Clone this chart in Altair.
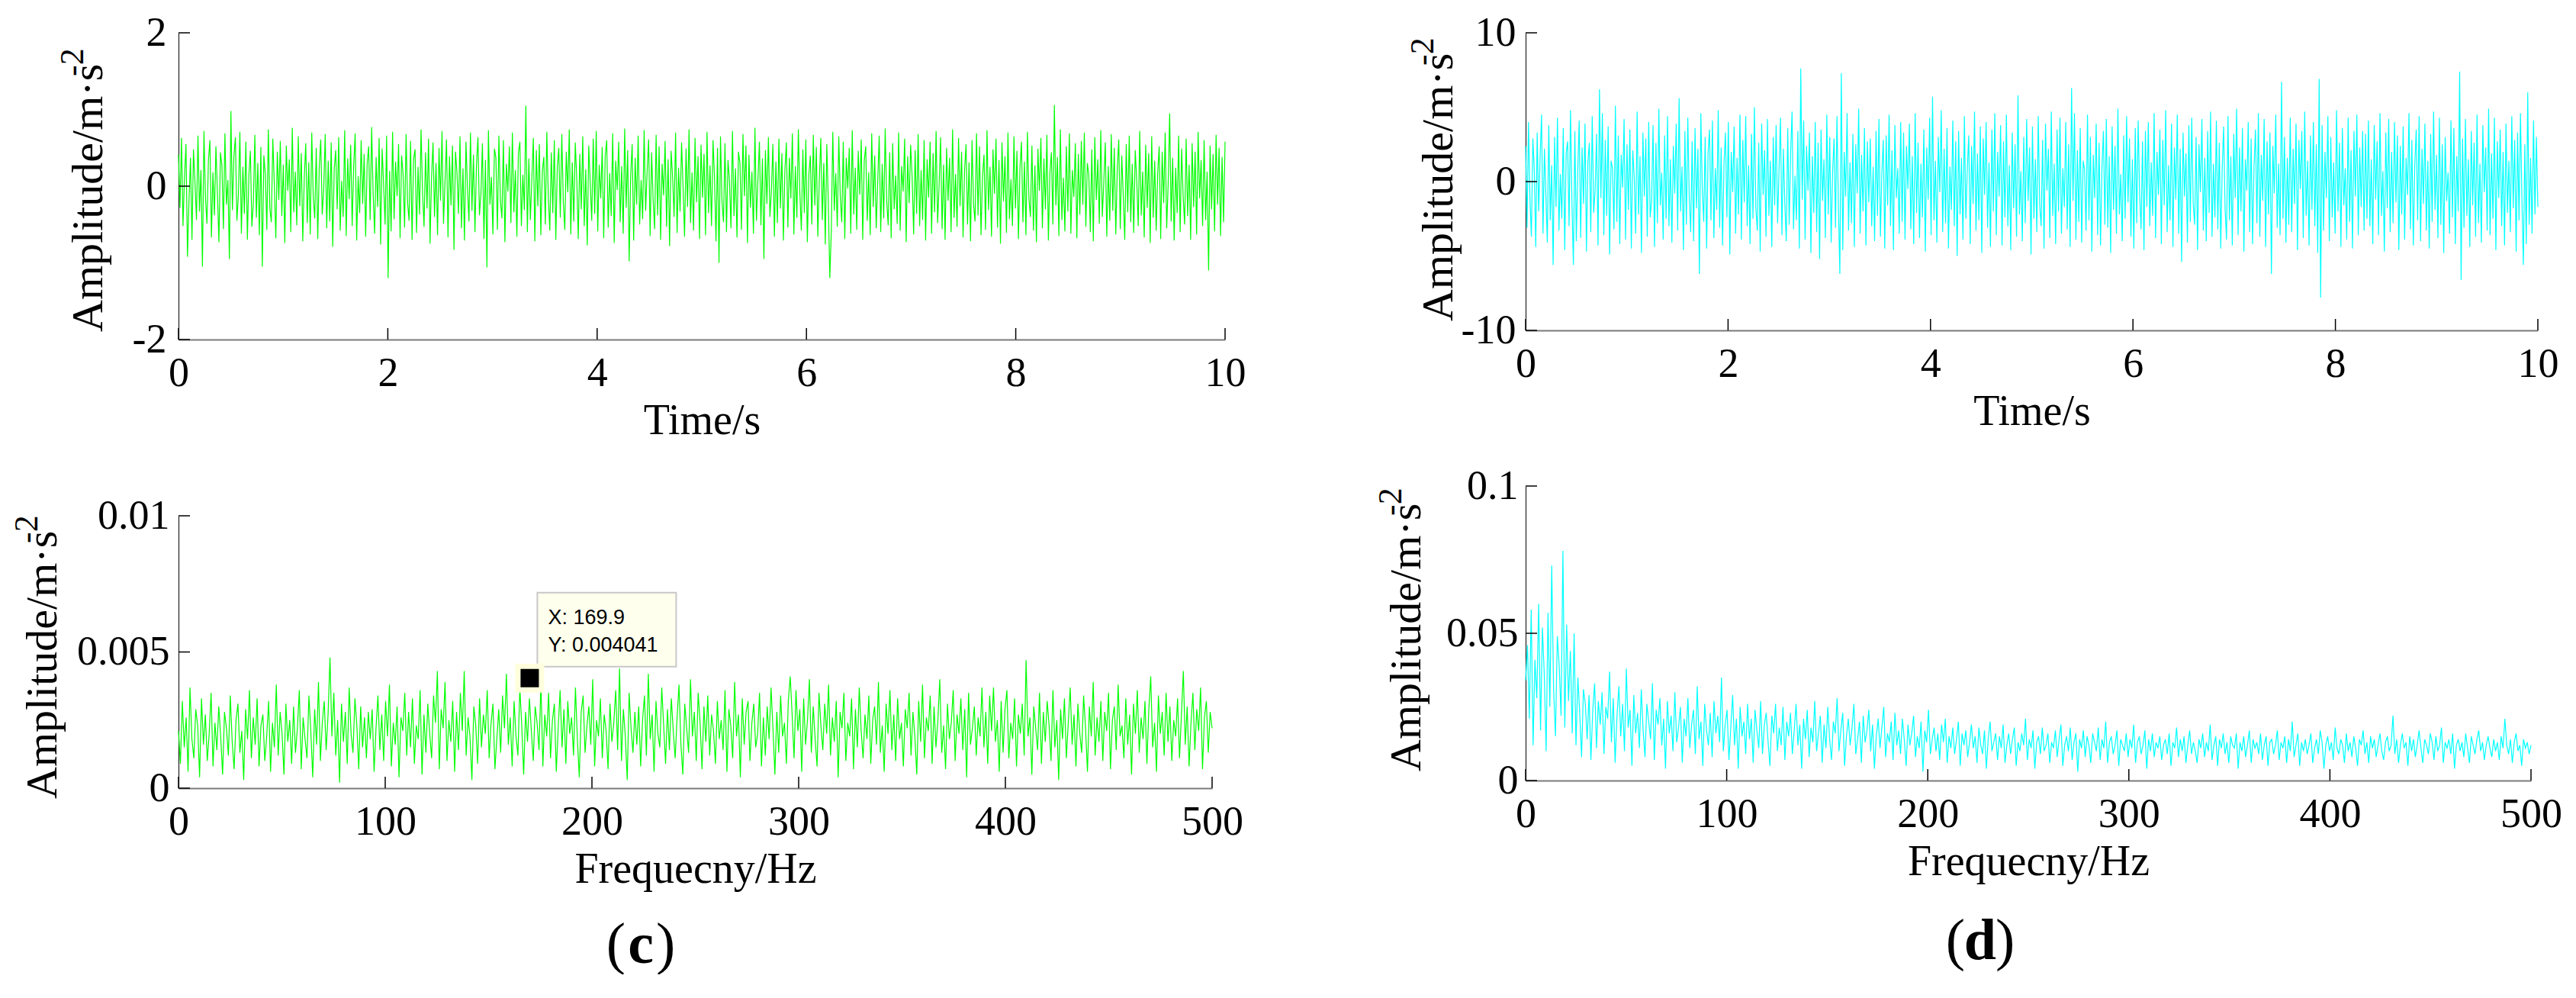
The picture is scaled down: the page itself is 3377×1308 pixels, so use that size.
import altair as alt
import pandas as pd

# ---------------- data ----------------
# (a) time signal, green, 0..10 s
sig_a = [
0.41,-0.28,0.63,-0.52,0.12,0.55,-0.92,-0.2,0.37,-0.7,0.48,0.05,-0.44,0.66,-0.33,0.21,-1.05,0.72,-0.15,-0.49,0.34,0.6,-0.67,0.18,-0.38,
0.52,-0.09,-0.73,0.44,0.27,-0.56,0.69,-0.24,0.08,-0.95,0.98,-0.31,0.39,0.64,-0.45,-0.12,0.71,-0.62,0.25,-0.36,0.58,-0.7,0.14,0.46,-0.53,
-0.22,0.67,-0.41,0.3,-0.64,0.51,-1.05,0.4,0.16,-0.57,0.74,-0.29,-0.47,0.62,0.03,-0.68,0.45,-0.18,0.59,-0.39,0.28,-0.74,0.53,-0.06,0.35,
-0.6,0.76,-0.34,0.19,-0.51,0.65,-0.26,0.43,-0.72,0.1,0.56,-0.48,0.31,-0.63,0.7,-0.14,-0.42,0.5,-0.69,0.24,0.61,-0.37,-0.04,0.68,-0.55,
0.33,-0.46,0.57,-0.79,0.22,0.47,-0.3,0.64,-0.58,0.07,-0.4,0.73,-0.65,0.36,-0.17,0.54,-0.52,0.26,0.69,-0.71,0.13,-0.35,0.6,-0.23,0.42,
-0.66,0.29,0.52,-0.44,0.77,-0.1,-0.62,0.38,-0.27,0.63,-0.76,0.49,0.02,-0.5,0.66,-1.2,0.2,-0.59,0.71,-0.43,0.32,-0.13,0.55,-0.68,0.4,
0.16,-0.54,0.68,-0.21,-0.45,0.59,-0.7,0.35,0.48,-0.61,0.25,-0.37,0.74,-0.08,-0.53,0.44,-0.29,0.62,-0.75,0.11,0.57,-0.4,0.3,-0.64,0.5,
-0.19,0.72,-0.49,0.06,0.61,-0.67,0.39,-0.25,0.53,-0.83,0.45,0.18,-0.36,0.65,-0.55,0.23,-0.71,0.58,-0.02,-0.46,0.7,-0.32,0.41,-0.6,0.27,
0.64,-0.38,-0.1,0.56,-0.69,0.34,-1.06,0.73,-0.24,0.12,-0.63,0.49,0.37,-0.57,0.66,-0.19,-0.42,0.6,-0.73,0.29,-0.07,0.52,-0.48,0.7,-0.34,
0.21,-0.66,0.43,0.58,-0.52,0.15,-0.31,1.05,-0.6,0.36,-0.44,0.09,0.63,-0.72,0.47,-0.26,0.55,-0.64,0.19,0.38,-0.5,0.71,-0.14,-0.58,0.44,
-0.35,0.6,-0.7,0.25,0.5,-0.41,0.68,-0.2,-0.57,0.45,-0.08,0.74,-0.63,0.31,-0.46,0.57,0.1,-0.69,0.42,-0.3,0.65,-0.52,0.22,-0.77,0.53,
0.04,-0.45,0.62,-0.36,0.72,-0.59,0.28,-0.16,0.51,-0.68,0.4,0.6,-0.54,0.17,-0.39,0.69,-0.74,0.33,-0.05,0.58,-0.47,0.26,-0.62,0.75,-0.28,
0.47,-0.98,0.14,0.55,-0.71,0.37,-0.24,0.66,-0.5,0.08,-0.43,0.73,-0.32,0.2,0.61,-0.65,0.44,-0.18,-0.56,0.67,-0.38,0.52,-0.7,0.29,-0.12,
0.59,-0.53,0.35,-0.78,0.46,0.13,-0.4,0.7,-0.61,0.24,-0.33,0.57,-0.01,-0.66,0.49,-0.27,0.74,-0.48,0.18,-0.58,0.63,-0.21,0.39,-0.69,0.54,
-0.15,0.42,-0.64,0.71,-0.35,0.27,-0.52,0.6,0.11,-0.72,0.5,-1.0,0.65,-0.2,-0.47,0.56,-0.6,0.34,0.07,-0.55,0.72,-0.39,0.23,-0.67,0.45,
0.3,-0.57,0.68,-0.13,0.53,-0.74,0.41,-0.28,0.19,-0.62,0.76,-0.45,0.09,0.58,-0.51,0.36,-0.95,0.47,-0.23,0.64,-0.4,-0.06,0.55,-0.66,0.32,
-0.48,0.62,-0.29,0.43,-0.71,0.2,0.57,-0.54,0.37,-0.16,0.69,-0.63,0.26,-0.41,0.74,-0.09,-0.58,0.48,-0.35,0.61,-0.73,0.15,0.4,-0.5,0.67,
-0.25,0.51,-0.66,0.08,0.63,-0.44,0.3,-0.76,0.55,-0.2,-1.2,-0.6,0.71,-0.32,0.17,-0.53,0.65,-0.14,-0.47,0.58,-0.69,0.37,-0.03,0.5,-0.62,
0.73,-0.37,0.24,-0.57,0.46,-0.11,0.61,-0.7,0.33,0.52,-0.45,0.18,-0.64,0.69,-0.27,0.4,-0.55,0.06,0.66,-0.6,0.29,-0.42,0.75,-0.19,-0.51,
0.44,-0.68,0.56,-0.3,0.14,-0.49,0.7,-0.58,0.26,-0.07,0.62,-0.73,0.39,-0.22,0.54,0.12,-0.63,0.47,-0.36,0.68,-0.52,0.21,-0.44,0.6,-0.71,
0.35,-0.15,0.58,-0.62,0.43,-0.34,0.72,-0.48,0.01,0.64,-0.56,0.28,-0.7,0.5,-0.19,0.37,-0.6,0.74,-0.41,0.16,-0.53,0.63,-0.26,0.45,-0.67,
0.2,0.55,-0.5,0.31,-0.72,0.6,-0.23,-0.46,0.69,-0.38,0.52,-0.64,0.13,0.41,-0.57,0.73,-0.31,0.25,-0.66,0.48,-0.1,0.62,-0.54,0.34,-0.75,
0.57,-0.2,0.39,-0.61,0.7,-0.43,0.09,-0.52,0.65,-0.29,0.46,-0.69,0.23,0.58,-0.47,0.32,-0.64,0.71,-0.16,-0.4,0.53,-0.58,0.27,-0.73,0.49,
-0.06,0.63,-0.55,0.36,-0.3,0.67,-0.71,0.18,0.44,-0.5,1.06,-0.25,0.38,-0.65,0.74,-0.44,0.11,-0.59,0.52,-0.33,0.69,-0.62,0.21,-0.14,0.56,
-0.68,0.42,-0.37,0.59,-0.24,0.7,-0.53,0.3,0.15,-0.6,0.48,-0.72,0.64,-0.18,0.35,-0.49,0.73,-0.4,0.05,0.57,-0.66,0.26,-0.45,0.68,-0.32,
0.5,-0.63,0.22,0.61,-0.56,0.4,-0.12,-0.7,0.55,-0.34,0.66,-0.47,0.29,-0.61,0.47,0.08,-0.52,0.72,-0.38,0.19,-0.67,0.54,-0.28,0.43,-0.74,
0.65,-0.41,0.33,-0.58,0.17,0.52,-0.69,0.45,-0.22,0.7,-0.55,0.03,0.95,-0.46,0.37,-0.71,0.24,-0.35,0.66,-0.6,0.49,-0.13,-0.5,0.62,-0.39,
0.28,-0.7,0.56,-0.27,0.45,-0.63,0.71,-0.16,0.34,-0.52,0.6,-0.44,0.19,-1.1,0.53,-0.3,0.42,-0.59,0.67,-0.24,0.5,-0.65,0.38,-0.47,0.58,
]

# (b) time signal, cyan, 0..10 s
sig_b = [
2.4,-3.1,4.0,-1.2,-3.7,2.9,0.8,-4.4,3.3,-2.0,1.6,4.5,-3.5,2.2,-0.9,-4.1,3.8,-2.6,1.1,-5.6,3.0,-1.7,4.3,-3.3,0.5,
-2.5,3.6,-4.6,1.9,2.7,-3.0,4.8,-1.4,-5.6,3.4,-4.0,0.7,4.1,-3.8,2.3,-1.5,3.9,-4.7,1.3,2.6,-3.4,4.4,-2.1,-0.6,3.2,
-4.3,6.2,-1.1,4.6,-3.6,2.8,-2.3,3.7,-4.9,1.4,0.9,-3.2,5.1,-2.7,3.1,-4.2,1.8,-0.4,4.2,-3.9,2.5,-1.9,3.5,-4.5,2.1,
0.3,-3.5,4.7,-2.2,1.7,-4.8,3.3,-1.0,2.9,-3.7,4.0,-2.4,-1.3,3.8,-4.4,2.6,-2.8,4.9,-1.6,0.6,-3.9,3.1,-2.5,4.4,-3.0,
1.5,-4.1,2.4,-0.8,3.9,-3.3,5.6,-2.0,1.0,-4.6,3.4,-2.9,4.3,-1.1,-3.4,2.7,-4.0,3.6,-1.8,2.2,-6.2,4.6,-0.5,-2.7,3.0,
-4.5,1.9,3.5,-2.6,4.1,-3.8,0.9,-1.9,4.8,-3.1,2.3,-4.3,1.2,3.3,-2.4,4.0,-4.9,2.0,-0.7,3.7,-3.5,1.6,-2.2,4.5,-3.9,
2.8,-1.4,4.4,-3.0,1.1,-4.2,3.2,-2.5,5.0,-1.8,-3.3,2.6,-4.7,3.9,-0.9,2.1,-3.7,4.2,-2.3,1.4,-4.4,3.0,-1.6,3.8,-2.8,
0.8,4.3,-3.6,2.2,-1.5,-4.0,3.6,-2.9,1.9,4.7,-3.2,0.4,-2.6,3.4,-4.5,7.6,-1.2,4.1,-3.9,2.4,-0.6,3.3,-4.8,1.7,-2.1,
4.0,-3.4,2.6,-5.2,3.5,-1.3,1.5,-3.8,4.5,-2.2,3.0,-4.1,0.7,2.9,-3.1,4.4,-1.7,-6.2,7.3,-4.6,2.0,-1.0,4.6,-3.3,1.3,
-2.8,3.2,-4.4,2.5,-0.8,4.9,-3.5,1.8,-2.0,3.6,-4.3,2.7,-1.4,2.9,-3.0,1.0,-4.0,3.4,-2.3,4.2,-3.7,0.6,2.8,-4.5,3.1,
-1.6,4.5,-3.0,2.1,-4.6,3.8,-1.1,0.9,-3.5,4.0,-2.7,3.3,-3.9,2.4,-0.5,3.9,-3.2,1.7,-4.2,4.6,-2.1,2.6,-3.8,1.2,-2.4,
3.5,-4.7,2.3,-1.2,4.3,-3.6,5.7,-2.6,1.4,-4.1,3.0,-0.7,4.8,-3.4,2.2,-2.8,3.6,-4.5,1.0,-1.9,4.1,-3.0,2.7,-5.0,3.4,
-2.2,1.6,-3.9,4.4,-2.5,0.8,3.1,-4.2,2.4,-1.5,4.7,-3.3,1.9,-2.6,3.7,-4.8,2.9,-0.9,4.0,-3.1,1.3,-4.4,3.5,-2.0,4.6,
-3.6,2.0,-1.0,3.8,-4.3,2.7,-2.4,4.5,-3.0,1.1,-4.6,3.3,-1.8,2.5,-3.7,5.8,-2.2,0.7,-4.0,3.0,-2.8,4.2,-1.3,2.3,-4.9,
3.7,-2.5,1.5,-3.4,4.4,-1.6,-3.0,2.8,-4.5,3.9,-0.6,2.2,-3.8,4.7,-2.3,1.2,-4.2,3.5,-2.0,4.3,-3.5,0.9,-1.7,4.0,-3.2,
2.5,-4.4,6.3,-1.3,4.6,-3.9,2.1,-2.7,3.6,-4.1,1.4,0.8,-3.3,4.5,-2.6,3.0,-4.7,1.8,-1.1,3.9,-3.6,2.6,-4.3,1.0,3.4,
-2.9,4.2,-3.1,1.7,-4.8,3.7,-1.9,2.4,-3.5,4.9,-2.2,0.5,-4.0,3.1,-2.5,4.4,-1.4,2.9,-3.7,1.5,-4.5,3.6,-2.8,4.1,-0.8,
-3.2,2.7,-4.6,3.4,-1.7,4.0,-3.0,1.3,-2.3,4.6,-3.8,2.0,-0.9,3.5,-4.2,2.8,-1.6,4.8,-3.4,1.1,-2.6,3.9,-4.4,2.3,-1.2,
4.5,-3.5,2.2,-5.4,3.3,-1.0,1.9,-4.1,3.8,-2.7,4.3,-1.5,-2.9,3.0,-4.6,2.5,-0.7,4.2,-3.3,1.6,-4.0,3.4,-2.1,4.7,-3.7,
1.2,-2.4,4.1,-3.2,2.6,-4.5,0.8,3.7,-1.8,-3.9,4.4,-2.6,1.7,-4.3,3.2,-1.1,4.9,-3.6,2.3,-2.0,3.6,-4.7,1.5,-0.6,4.0,
-3.4,2.9,-4.2,1.0,3.5,-2.8,4.6,-3.7,1.8,-1.3,4.2,-4.4,2.7,-2.2,3.3,-6.2,2.4,-0.8,4.5,-3.1,1.2,-3.6,6.7,-2.5,3.0,
-4.1,1.6,-2.9,4.3,-3.4,2.2,-1.5,3.9,-4.6,2.8,-0.5,3.4,-3.8,4.7,-2.3,1.4,-4.3,3.1,-1.9,4.0,-3.0,2.5,-4.8,6.9,-7.8,
3.8,-3.3,2.0,-1.1,4.4,-4.0,3.0,-2.4,1.3,-3.5,4.8,-2.0,2.6,-4.4,3.6,-1.6,0.9,-3.9,4.3,-2.7,2.1,-4.5,3.4,-1.0,4.5,
-3.6,2.3,-1.7,3.4,-3.3,3.2,-2.5,4.1,-3.0,1.5,-4.2,3.8,-1.2,2.7,-3.6,4.6,-2.3,0.7,-4.7,3.3,-1.8,4.2,-3.4,2.0,-2.8,
4.0,-1.4,3.1,-4.6,2.4,-2.2,3.7,-3.9,1.6,-0.9,4.6,-3.2,2.8,-4.3,1.1,3.5,-2.6,4.4,-4.0,2.2,-1.5,3.9,-3.3,1.4,-4.5,
3.2,-2.7,4.7,-1.9,1.8,-3.8,4.3,-2.9,2.5,-4.8,3.0,-1.3,0.6,-3.5,4.1,-2.4,3.6,-4.2,1.7,-2.0,7.4,-6.6,2.9,-3.1,4.2,
-2.3,1.5,-4.4,3.4,-1.6,2.6,-3.7,4.5,-2.8,1.2,-4.1,3.8,-0.7,2.3,-3.3,4.9,-3.6,1.9,-2.5,4.3,-4.6,2.7,-1.1,3.5,-3.0,
2.0,-4.3,3.9,-2.1,1.4,-3.4,4.4,-1.8,2.8,-4.7,3.3,-2.6,4.6,-1.2,-5.6,2.5,-4.2,6.0,-2.9,1.6,-3.5,4.1,-2.2,3.0,-1.7,
]

# (c) amplitude spectrum, green, 0..500 Hz
spec_c = [
.0021,.0009,.0032,.0015,.0026,.0006,.0037,.0018,.0011,.0029,.0023,.0004,.0033,.0016,.0027,.0010,.0020,.0035,.0008,.0024,
.0014,.0030,.0019,.0005,.0028,.0022,.0012,.0034,.0017,.0007,.0025,.0031,.0013,.0021,.0003,.0029,.0018,.0036,.0011,.0026,
.0016,.0033,.0008,.0023,.0027,.0010,.0019,.0032,.0006,.0024,.0015,.0038,.0012,.0028,.0020,.0005,.0031,.0017,.0025,.0009,
.0030,.0013,.0022,.0036,.0007,.0026,.0018,.0011,.0034,.0021,.0004,.0029,.0016,.0039,.0010,.0024,.0032,.0014,.0027,.0048,
.0019,.0035,.0012,.0025,.0002,.0031,.0017,.0028,.0009,.0037,.0020,.0013,.0033,.0023,.0007,.0030,.0015,.0026,.0011,.0028,
.0018,.0029,.0006,.0022,.0034,.0014,.0027,.0010,.0032,.0019,.0038,.0008,.0024,.0016,.0030,.0004,.0026,.0021,.0035,.0012,
.0028,.0015,.0033,.0009,.0023,.0018,.0036,.0005,.0027,.0013,.0031,.0020,.0011,.0034,.0024,.0043,.0007,.0029,.0022,.0039,
.0010,.0025,.0017,.0032,.0006,.0028,.0014,.0035,.0021,.0043,.0012,.0026,.0019,.0003,.0030,.0023,.0009,.0033,.0015,.0027,
.0020,.0036,.0011,.0024,.0031,.0007,.0018,.0029,.0013,.0034,.0022,.0042,.0016,.0026,.0008,.0032,.0019,.0012,.0037,.0023,
.0005,.0028,.0017,.0033,.0021,.0010,.0030,.0024,.0014,.0039,.0008,.0027,.0019,.0035,.0011,.0025,.0031,.0006,.0022,.0036,
.0015,.0029,.0009,.0032,.0020,.0026,.0012,.0037,.0018,.0004,.0028,.0034,.0013,.0023,.0030,.0016,.0040,.0008,.0025,.0019,
.0033,.0011,.0027,.0021,.0007,.0031,.0017,.0024,.0036,.0014,.0044,.0010,.0029,.0019,.0003,.0035,.0022,.0013,.0028,.0016,
.0030,.0008,.0025,.0034,.0012,.0042,.0018,.0027,.0006,.0032,.0020,.0015,.0037,.0023,.0009,.0029,.0014,.0033,.0021,.0011,
.0026,.0038,.0016,.0005,.0031,.0022,.0013,.0040,.0019,.0028,.0010,.0035,.0024,.0007,.0030,.0017,.0034,.0012,.0027,.0021,
.0009,.0032,.0018,.0025,.0014,.0036,.0006,.0029,.0023,.0011,.0039,.0019,.0027,.0004,.0033,.0016,.0028,.0032,.0010,.0024,
.0031,.0015,.0020,.0035,.0008,.0026,.0012,.0030,.0018,.0037,.0022,.0005,.0028,.0013,.0034,.0019,.0024,.0009,.0032,.0041,
.0027,.0011,.0036,.0021,.0029,.0006,.0033,.0016,.0025,.0040,.0013,.0030,.0018,.0008,.0035,.0023,.0014,.0031,.0020,.0038,
.0012,.0026,.0017,.0032,.0004,.0028,.0022,.0035,.0010,.0024,.0019,.0033,.0007,.0029,.0015,.0037,.0021,.0011,.0027,.0018,
.0034,.0009,.0025,.0030,.0016,.0039,.0013,.0023,.0006,.0031,.0020,.0036,.0014,.0027,.0010,.0033,.0018,.0024,.0008,.0029,
.0022,.0035,.0012,.0028,.0019,.0005,.0032,.0017,.0038,.0011,.0026,.0021,.0034,.0009,.0030,.0015,.0025,.0040,.0013,.0023,
.0007,.0031,.0018,.0024,.0036,.0010,.0027,.0020,.0033,.0014,.0029,.0004,.0035,.0016,.0022,.0030,.0012,.0026,.0019,.0037,
.0015,.0028,.0009,.0034,.0021,.0037,.0017,.0025,.0006,.0032,.0013,.0029,.0036,.0011,.0024,.0018,.0033,.0008,.0027,.0020,
.0031,.0012,.0047,.0019,.0026,.0005,.0030,.0022,.0014,.0035,.0009,.0028,.0017,.0032,.0023,.0010,.0036,.0015,.0025,.0003,
.0029,.0018,.0033,.0011,.0024,.0037,.0016,.0027,.0008,.0031,.0020,.0013,.0034,.0022,.0006,.0030,.0019,.0039,.0012,.0026,
.0017,.0032,.0010,.0028,.0021,.0035,.0007,.0025,.0030,.0014,.0038,.0019,.0023,.0011,.0033,.0016,.0027,.0005,.0031,.0020,
.0036,.0013,.0026,.0018,.0032,.0009,.0029,.0041,.0015,.0024,.0006,.0034,.0020,.0028,.0012,.0035,.0017,.0030,.0010,.0025,
.0019,.0033,.0011,.0027,.0043,.0016,.0030,.0008,.0024,.0035,.0014,.0029,.0021,.0037,.0007,.0026,.0032,.0013,.0028,.0022,
]

# (d) amplitude spectrum, cyan, 0..500 Hz
spec_d = [
.034,.046,.021,.058,.012,.041,.028,.060,.017,.052,.036,.010,.057,.025,.073,.031,.015,.049,.039,.022,
.078,.018,.053,.027,.044,.016,.050,.012,.035,.023,.008,.031,.026,.014,.029,.007,.024,.033,.011,.027,
.019,.030,.009,.025,.021,.037,.013,.028,.006,.022,.032,.015,.026,.010,.038,.018,.024,.005,.029,.016,
.023,.011,.031,.017,.008,.026,.020,.014,.033,.007,.024,.019,.028,.012,.021,.004,.027,.016,.022,.010,
.030,.013,.018,.025,.006,.021,.015,.028,.011,.019,.024,.009,.032,.014,.020,.005,.026,.017,.012,.023,
.008,.027,.016,.022,.013,.035,.010,.019,.024,.007,.018,.029,.012,.021,.004,.025,.015,.020,.009,.026,
.014,.021,.006,.024,.017,.011,.027,.009,.019,.023,.013,.005,.022,.016,.026,.010,.018,.012,.025,.007,
.020,.015,.023,.009,.017,.026,.012,.019,.004,.021,.014,.024,.008,.018,.013,.027,.010,.016,.022,.006,
.019,.011,.025,.014,.007,.020,.016,.028,.010,.017,.023,.005,.015,.021,.012,.018,.026,.009,.014,.020,
.006,.022,.013,.017,.024,.010,.019,.004,.015,.021,.011,.018,.025,.008,.016,.013,.020,.007,.023,.012,
.017,.009,.021,.014,.005,.019,.012,.016,.022,.008,.015,.011,.020,.003,.017,.013,.024,.009,.014,.018,
.010,.016,.007,.019,.013,.021,.006,.015,.011,.018,.009,.014,.020,.005,.016,.012,.017,.008,.013,.019,
.011,.015,.006,.018,.012,.009,.017,.004,.014,.020,.010,.013,.016,.007,.015,.011,.019,.006,.012,.016,
.009,.014,.018,.005,.013,.010,.016,.012,.021,.007,.014,.011,.017,.004,.013,.015,.009,.018,.010,.012,
.016,.006,.013,.011,.017,.008,.014,.019,.005,.012,.015,.010,.018,.007,.013,.016,.003,.014,.011,.017,
.008,.015,.012,.006,.016,.013,.010,.018,.007,.014,.011,.020,.006,.013,.015,.009,.012,.017,.005,.014,
.012,.010,.016,.008,.014,.011,.019,.006,.013,.015,.009,.012,.017,.004,.014,.010,.016,.008,.013,.011,
.015,.007,.012,.014,.009,.016,.005,.013,.011,.018,.008,.014,.010,.015,.006,.012,.017,.009,.013,.010,
.006,.014,.011,.016,.008,.013,.010,.019,.007,.012,.015,.005,.014,.011,.016,.009,.013,.006,.015,.012,
.011,.016,.004,.013,.010,.015,.008,.012,.017,.006,.014,.011,.013,.009,.016,.007,.012,.015,.005,.013,
.014,.009,.012,.017,.007,.013,.011,.015,.006,.014,.010,.020,.008,.012,.016,.005,.013,.010,.014,.009,
.012,.016,.006,.011,.014,.009,.017,.013,.004,.012,.015,.010,.013,.007,.018,.011,.009,.014,.012,.006,
.016,.010,.013,.008,.015,.011,.005,.014,.012,.017,.009,.013,.006,.015,.011,.014,.008,.012,.016,.010,
.007,.013,.015,.010,.012,.022,.009,.014,.006,.012,.016,.011,.013,.005,.015,.010,.014,.008,.012,.017,
.011,.006,.014,.012,.009,.016,.013,.007,.015,.010,.012,.018,.006,.013,.011,.014,.009,.016,.004,.012,
.014,.010,.013,.008,.016,.011,.006,.015,.012,.009,.014,.017,.010,.013,.007,.012,.015,.011,.008,.014,
.010,.013,.007,.015,.011,.021,.012,.009,.014,.006,.013,.016,.010,.012,.005,.014,.011,.013,.009,.012,
]

t_end = 10.0
f_end = 500.0
x_ticks_time = [0, 2, 4, 6, 8, 10]
x_ticks_freq = [0, 100, 200, 300, 400, 500]
y_ticks_a = [-2, 0, 2]
y_ticks_b = [-10, 0, 10]
y_ticks_c = [0, 0.005, 0.01]
y_ticks_d = [0, 0.05, 0.1]
tip_x = [169.9]
tip_y = [0.004041]
tip_lines = ["X: 169.9", "Y: 0.004041"]

SERIF = "Liberation Serif"
SANS = "Liberation Sans"
GREEN = "#00FF00"
CYAN = "#00FFFF"
NOVIEW = alt.ViewBackground(stroke="transparent", strokeWidth=0)


def panel(vals, x_end, color, ydom, xticks, yticks, w, h, xtitle,
          title_x, title_y, lab_pad, letter=None, letter_x=0, letter_y=0):
    n = len(vals)
    df = pd.DataFrame({"x": [i * x_end / (n - 1) for i in range(n)], "y": vals})
    xs = alt.Scale(domain=[0, x_end], nice=False, zero=False)
    ys = alt.Scale(domain=ydom, nice=False, zero=False)
    xaxis = alt.Axis(values=xticks, title=xtitle, labelExpr="datum.value + ''",
                     ticks=False, tickSize=0, grid=False, domainColor="#7a7a7a",
                     domainWidth=2, labelFont=SERIF, labelFontSize=54,
                     labelColor="black", labelPadding=17, labelFlush=False,
                     labelOverlap=False,
                     titleFont=SERIF, titleFontSize=56, titleFontWeight="normal",
                     titleColor="black", titlePadding=8)
    yaxis = alt.Axis(values=yticks, title=None, labelExpr="datum.value + ''",
                     ticks=False, tickSize=0, grid=False, domainColor="#202020",
                     domainWidth=1.2, labelFont=SERIF, labelFontSize=54,
                     labelColor="black", labelPadding=lab_pad, labelFlush=False,
                     labelOverlap=False)
    line = alt.Chart(df).mark_line(color=color, strokeWidth=1.2).encode(
        x=alt.X("x:Q", scale=xs, axis=xaxis),
        y=alt.Y("y:Q", scale=ys, axis=yaxis),
    )
    xt = alt.Chart(pd.DataFrame({"x": xticks})).mark_rule(
        color="black", strokeWidth=1.5).encode(
        x=alt.X("x:Q", scale=xs), y=alt.value(h), y2=alt.value(h - 15))
    yt = alt.Chart(pd.DataFrame({"y": yticks})).mark_rule(
        color="black", strokeWidth=1.5).encode(
        y=alt.Y("y:Q", scale=ys), x=alt.value(0), x2=alt.value(15))
    ttl = alt.Chart(pd.DataFrame({"t": ["Amplitude/m\u00b7s"]})).mark_text(
        angle=270, align="left", baseline="alphabetic", font=SERIF, fontSize=58,
        color="black").encode(text="t:N", x=alt.value(title_x), y=alt.value(title_y))
    sup = alt.Chart(pd.DataFrame({"t": ["-2"]})).mark_text(
        angle=270, align="left", baseline="alphabetic", font=SERIF, fontSize=44,
        color="black").encode(text="t:N", x=alt.value(title_x - 25),
                              y=alt.value(title_y - 335))
    layers = [line, xt, yt, ttl, sup]
    if letter is not None:
        lp = alt.Chart(pd.DataFrame({"t": ["("]})).mark_text(
            align="right", baseline="alphabetic", font=SERIF, fontSize=76,
            color="black").encode(text="t:N", x=alt.value(letter_x - 20),
                                  y=alt.value(letter_y))
        lc = alt.Chart(pd.DataFrame({"t": [letter]})).mark_text(
            align="center", baseline="alphabetic", font=SERIF, fontSize=76,
            fontWeight="bold", color="black").encode(
            text="t:N", x=alt.value(letter_x), y=alt.value(letter_y))
        rp = alt.Chart(pd.DataFrame({"t": [")"]})).mark_text(
            align="left", baseline="alphabetic", font=SERIF, fontSize=76,
            color="black").encode(text="t:N", x=alt.value(letter_x + 20),
                                  y=alt.value(letter_y))
        layers += [lp, lc, rp]
    return layers, xs, ys


# (a)
la, _, _ = panel(sig_a, t_end, GREEN, [-2, 2], x_ticks_time, y_ticks_a, 1372, 402,
                 "Time/s", -100, 392, 16)
chart_a = alt.layer(*la).properties(width=1372, height=402, view=NOVIEW)

# (b)
lb, _, _ = panel(sig_b, t_end, CYAN, [-10, 10], x_ticks_time, y_ticks_b, 1327, 390,
                 "Time/s", -96, 378, 13)
chart_b = alt.layer(*lb).properties(width=1327, height=390, view=NOVIEW)

# (c) with the data tip
lc_, xs_c, ys_c = panel(spec_c, f_end, GREEN, [0, 0.01], x_ticks_freq, y_ticks_c,
                        1355, 357, "Frequecny/Hz", -160, 371, 12, "c", 606, 586)
tip_df = pd.DataFrame({"x": tip_x, "y": tip_y})
tip_box = alt.Chart(tip_df).mark_rect(
    fill="#FFFFEE", stroke="#C8C8C8", strokeWidth=2,
    xOffset=10, x2Offset=192, yOffset=-112, y2Offset=-15).encode(
    x=alt.X("x:Q", scale=xs_c), x2="x:Q",
    y=alt.Y("y:Q", scale=ys_c), y2="y:Q")
tip_halo = alt.Chart(tip_df).mark_point(
    shape="square", filled=True, size=1444, color="#FFFFDD", opacity=1).encode(
    x=alt.X("x:Q", scale=xs_c), y=alt.Y("y:Q", scale=ys_c))
tip_mark = alt.Chart(tip_df).mark_point(
    shape="square", filled=True, size=576, color="black", opacity=1).encode(
    x=alt.X("x:Q", scale=xs_c), y=alt.Y("y:Q", scale=ys_c))
tip_t1 = alt.Chart(tip_df.assign(t=tip_lines[0])).mark_text(
    align="left", baseline="alphabetic", font=SANS, fontSize=27, color="black",
    dx=24, dy=-71).encode(x=alt.X("x:Q", scale=xs_c),
                         y=alt.Y("y:Q", scale=ys_c), text="t:N")
tip_t2 = alt.Chart(tip_df.assign(t=tip_lines[1])).mark_text(
    align="left", baseline="alphabetic", font=SANS, fontSize=27, color="black",
    dx=24, dy=-35).encode(x=alt.X("x:Q", scale=xs_c),
                         y=alt.Y("y:Q", scale=ys_c), text="t:N")
chart_c = alt.layer(*lc_, tip_box, tip_halo, tip_mark, tip_t1, tip_t2).properties(
    width=1355, height=357, view=NOVIEW)

# (d)
ld, _, _ = panel(spec_d, f_end, CYAN, [0, 0.1], x_ticks_freq, y_ticks_d, 1318, 386,
                 "Frequecny/Hz", -138, 374, 10, "d", 596, 620)
chart_d = alt.layer(*ld).properties(width=1318, height=386, view=NOVIEW)

left = alt.vconcat(chart_a, chart_c, spacing=70)
right = alt.vconcat(chart_b, chart_d, spacing=43)
chart = alt.hconcat(left, right, spacing=169).properties(
    padding={"left": 6, "top": 8, "right": 0, "bottom": 0},
    background="white",
).configure_view(stroke="transparent", strokeWidth=0)

chart.save("out.html", embed_options={"renderer": "svg", "actions": False})
